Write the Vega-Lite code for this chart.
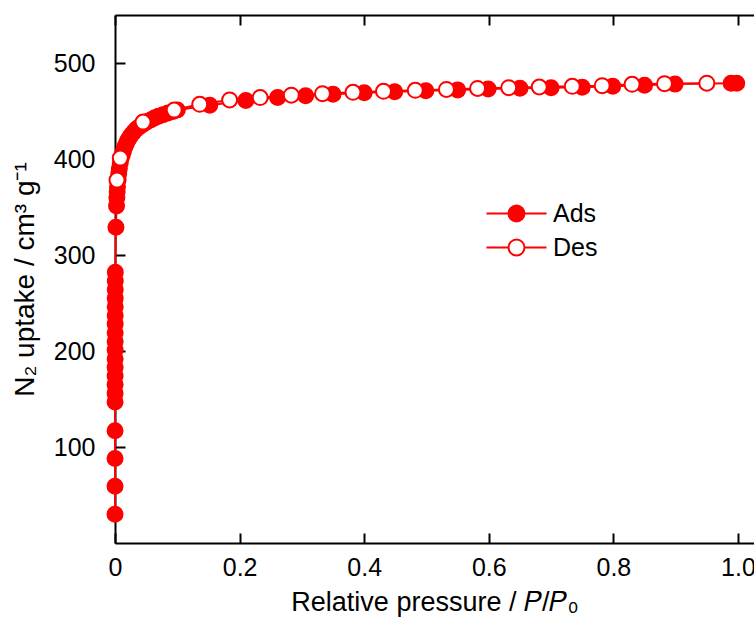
{
  "$schema": "https://vega.github.io/schema/vega-lite/v6.json",
  "width": 639,
  "height": 528,
  "autosize": "none",
  "padding": {"left": 115, "top": 15, "right": 0, "bottom": 78},
  "config": {
    "view": {"stroke": null},
    "font": "Liberation Sans",
    "axis": {
      "domainColor": "#000000",
      "domainWidth": 2,
      "tickColor": "#000000",
      "tickWidth": 2,
      "tickSize": -10,
      "grid": false,
      "labelFlush": false,
      "labelFont": "Liberation Sans",
      "labelFontSize": 25,
      "labelColor": "#000000",
      "titleFont": "Liberation Sans",
      "titleFontSize": 27,
      "titleFontWeight": "normal",
      "titleColor": "#000000"
    }
  },
  "data": {
    "values": [
      {"series": "Ads", "p": 0.00002, "v": 30},
      {"series": "Ads", "p": 0.00004, "v": 59},
      {"series": "Ads", "p": 0.00006, "v": 88},
      {"series": "Ads", "p": 0.00008, "v": 117},
      {"series": "Ads", "p": 0.0001, "v": 147},
      {"series": "Ads", "p": 0.00012, "v": 156},
      {"series": "Ads", "p": 0.00014, "v": 165},
      {"series": "Ads", "p": 0.00016, "v": 174},
      {"series": "Ads", "p": 0.00018, "v": 183},
      {"series": "Ads", "p": 0.0002, "v": 192},
      {"series": "Ads", "p": 0.00022, "v": 201},
      {"series": "Ads", "p": 0.00024, "v": 210},
      {"series": "Ads", "p": 0.00026, "v": 219},
      {"series": "Ads", "p": 0.00028, "v": 228},
      {"series": "Ads", "p": 0.0003, "v": 237},
      {"series": "Ads", "p": 0.00033, "v": 246},
      {"series": "Ads", "p": 0.00036, "v": 255},
      {"series": "Ads", "p": 0.0004, "v": 264},
      {"series": "Ads", "p": 0.00045, "v": 273},
      {"series": "Ads", "p": 0.0005, "v": 282},
      {"series": "Ads", "p": 0.0015, "v": 329},
      {"series": "Ads", "p": 0.0025, "v": 351},
      {"series": "Ads", "p": 0.003, "v": 360},
      {"series": "Ads", "p": 0.0035, "v": 366},
      {"series": "Ads", "p": 0.004, "v": 371},
      {"series": "Ads", "p": 0.005, "v": 378},
      {"series": "Ads", "p": 0.006, "v": 385},
      {"series": "Ads", "p": 0.007, "v": 390},
      {"series": "Ads", "p": 0.0085, "v": 396},
      {"series": "Ads", "p": 0.01, "v": 401},
      {"series": "Ads", "p": 0.012, "v": 405},
      {"series": "Ads", "p": 0.014, "v": 409},
      {"series": "Ads", "p": 0.016, "v": 413},
      {"series": "Ads", "p": 0.018, "v": 416},
      {"series": "Ads", "p": 0.02, "v": 419},
      {"series": "Ads", "p": 0.023, "v": 422},
      {"series": "Ads", "p": 0.026, "v": 425},
      {"series": "Ads", "p": 0.03, "v": 428},
      {"series": "Ads", "p": 0.034, "v": 431},
      {"series": "Ads", "p": 0.038, "v": 433},
      {"series": "Ads", "p": 0.042, "v": 435},
      {"series": "Ads", "p": 0.047, "v": 437},
      {"series": "Ads", "p": 0.052, "v": 439},
      {"series": "Ads", "p": 0.058, "v": 441},
      {"series": "Ads", "p": 0.064, "v": 443},
      {"series": "Ads", "p": 0.07, "v": 444.5},
      {"series": "Ads", "p": 0.077, "v": 446},
      {"series": "Ads", "p": 0.085, "v": 448},
      {"series": "Ads", "p": 0.093, "v": 449.5},
      {"series": "Ads", "p": 0.1, "v": 451},
      {"series": "Ads", "p": 0.152, "v": 456},
      {"series": "Ads", "p": 0.21, "v": 461},
      {"series": "Ads", "p": 0.261, "v": 464},
      {"series": "Ads", "p": 0.306, "v": 466},
      {"series": "Ads", "p": 0.35, "v": 467.5},
      {"series": "Ads", "p": 0.4, "v": 469},
      {"series": "Ads", "p": 0.449, "v": 470},
      {"series": "Ads", "p": 0.499, "v": 471},
      {"series": "Ads", "p": 0.55, "v": 472},
      {"series": "Ads", "p": 0.599, "v": 473},
      {"series": "Ads", "p": 0.65, "v": 473.8},
      {"series": "Ads", "p": 0.7, "v": 474.3},
      {"series": "Ads", "p": 0.75, "v": 474.7},
      {"series": "Ads", "p": 0.799, "v": 475.7},
      {"series": "Ads", "p": 0.85, "v": 476.8},
      {"series": "Ads", "p": 0.899, "v": 478},
      {"series": "Ads", "p": 0.989, "v": 479},
      {"series": "Ads", "p": 0.998, "v": 479},
      {"series": "Des", "p": 0.95, "v": 479},
      {"series": "Des", "p": 0.882, "v": 478.5},
      {"series": "Des", "p": 0.83, "v": 477.8},
      {"series": "Des", "p": 0.782, "v": 476.4},
      {"series": "Des", "p": 0.734, "v": 475.7},
      {"series": "Des", "p": 0.681, "v": 475},
      {"series": "Des", "p": 0.632, "v": 474.3},
      {"series": "Des", "p": 0.582, "v": 473.5},
      {"series": "Des", "p": 0.532, "v": 472.5},
      {"series": "Des", "p": 0.482, "v": 471.5},
      {"series": "Des", "p": 0.431, "v": 470.5},
      {"series": "Des", "p": 0.382, "v": 469.5},
      {"series": "Des", "p": 0.333, "v": 468},
      {"series": "Des", "p": 0.283, "v": 466.5},
      {"series": "Des", "p": 0.233, "v": 464},
      {"series": "Des", "p": 0.184, "v": 461.5},
      {"series": "Des", "p": 0.136, "v": 457},
      {"series": "Des", "p": 0.095, "v": 451},
      {"series": "Des", "p": 0.045, "v": 438.5},
      {"series": "Des", "p": 0.0085, "v": 401},
      {"series": "Des", "p": 0.0032, "v": 378}
    ]
  },
  "resolve": {"axis": {"x": "independent"}},
  "layer": [
    {
      "mark": {"type": "line", "color": "#ff0000", "strokeWidth": 2},
      "encoding": {
        "x": {
          "field": "p", "type": "quantitative",
          "scale": {"domain": [0, 1.0257], "nice": false, "zero": false},
          "axis": {
            "orient": "bottom",
            "values": [0, 0.2, 0.4, 0.6, 0.8, 1.0],
            "labelExpr": "datum.value == 0 ? '0' : format(datum.value, '.1f')",
            "labelPadding": 22,
            "title": "Relative pressure / 𝑃/𝑃₀",
            "titlePadding": 9
          }
        },
        "y": {
          "field": "v", "type": "quantitative",
          "scale": {"domain": [0, 550], "nice": false, "zero": false},
          "axis": {
            "values": [100, 200, 300, 400, 500],
            "labelPadding": 30,
            "title": "N₂ uptake / cm³ g⁻¹",
            "titleFontSize": 28,
            "titlePadding": 14
          }
        },
        "detail": {"field": "series", "type": "nominal"}
      }
    },
    {
      "mark": {"type": "point", "shape": "circle", "filled": true, "stroke": "#ff0000", "strokeWidth": 2, "size": 225, "opacity": 1, "fillOpacity": 1, "strokeOpacity": 1},
      "encoding": {
        "x": {
          "field": "p", "type": "quantitative",
          "axis": {
            "orient": "top",
            "values": [0, 0.2, 0.4, 0.6, 0.8, 1.0],
            "labels": false,
            "title": null
          }
        },
        "y": {"field": "v", "type": "quantitative"},
        "fill": {
          "field": "series", "type": "nominal",
          "scale": {"domain": ["Ads", "Des"], "range": ["#ff0000", "#ffffff"]},
          "legend": {
            "title": null,
            "orient": "none",
            "legendX": 389,
            "legendY": 186,
            "symbolType": "M-3.75,0L-1,0M1,0L3.75,0M-1,0A1,1,0,1,1,1,0A1,1,0,1,1,-1,0Z",
            "symbolSize": 256,
            "symbolStrokeColor": "#ff0000",
            "symbolStrokeWidth": 2,
            "symbolOpacity": 1,
            "labelFontSize": 25,
            "labelFont": "Liberation Sans",
            "labelColor": "#000000",
            "labelOffset": 24,
            "rowPadding": 8,
            "padding": 0
          }
        }
      }
    }
  ]
}
